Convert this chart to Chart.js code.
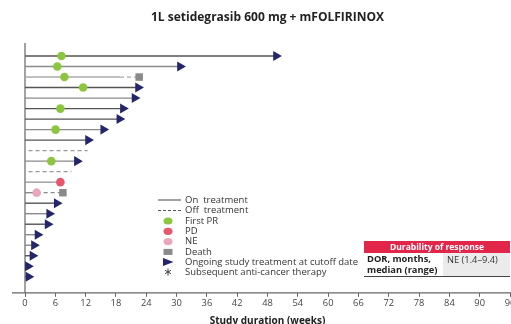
<!DOCTYPE html>
<html lang="en">
<head>
<meta charset="UTF-8">
<title>1L setidegrasib 600 mg + mFOLFIRINOX</title>
<script src="https://cdn.jsdelivr.net/npm/chart.js"></script>
<style>
  html, body { margin: 0; padding: 0; overflow: hidden; background: #fff; }
  #wrap { position: relative; width: 520px; height: 330px; }
  #dor { position: absolute; left: 364px; top: 241px; width: 146px; font-family: "Open Sans", sans-serif; color: #222; }
  #dor .head { background: #e2264a; color: #fff; font-weight: bold; font-size: 8.5px; height: 12px; line-height: 12px; text-align: center; }
  #dor .row { display: flex; border-bottom: 1px solid #444; height: 23px; }
  #dor .lab { width: 76px; font-weight: bold; font-size: 9.3px; line-height: 10.5px; padding: 1px 0 0 3px; white-space: nowrap; }
  #dor .val { flex: 1; background: #ebebeb; font-size: 9.3px; line-height: 10.5px; padding: 2px 0 0 4px; color: #333; }
</style>
</head>
<body>
<div id="wrap">
  <canvas id="swimmer" width="520" height="330"></canvas>
  <div id="dor">
    <div class="head">Durability of response</div>
    <div class="row">
      <div class="lab">DOR, months,<br>median (range)</div>
      <div class="val">NE (1.4–9.4)</div>
    </div>
  </div>
</div>
<script>
// one entry per patient, top to bottom (weeks)
const patients = [1, 2, 3, 4, 5, 6, 7, 8, 9, 10, 11, 12, 13, 14, 15, 16, 17, 18, 19, 20, 21, 22];
const onTreatEnd = [49.7, 30.7, 18.8, 22.4, 21.7, 19.4, 18.7, 15.5, 12.5, null, 10.3, null, 5.5, 2.3, 6.3, 4.8, 4.5, 2.5, 1.8, 1.5, 0.6, 0.7];
const offTreatStart = [null, null, 18.8, null, null, null, null, null, null, 0.7, null, 0.7, 5.5, 2.3, null, null, null, null, null, null, null, null];
const offTreatEnd = [null, null, 22.6, null, null, null, null, null, null, 12.4, null, 9.2, 7.8, 7.5, null, null, null, null, null, null, null, null];
const firstPR = [7.2, 6.4, 7.8, 11.5, null, 7.0, null, 6.05, null, null, 5.2, null, null, null, null, null, null, null, null, null, null, null];
const progression = [null, null, null, null, null, null, null, null, null, null, null, null, 7.0, null, null, null, null, null, null, null, null, null];
const notEvaluable = [null, null, null, null, null, null, null, null, null, null, null, null, null, 2.3, null, null, null, null, null, null, null, null];
const death = [null, null, 22.6, null, null, null, null, null, null, null, null, null, null, 7.5, null, null, null, null, null, null, null, null];
const ongoing = [49.7, 30.7, null, 22.4, 21.7, 19.4, 18.7, 15.5, 12.5, null, 10.3, null, null, null, 6.3, 4.8, 4.5, 2.5, 1.8, 1.5, 0.6, 0.7];
const weekTicks = [0, 6, 12, 18, 24, 30, 36, 42, 48, 54, 60, 66, 72, 78, 84, 90, 96];

// bar shade per row (styling only)
const shade = ['#555', '#8a8a8a', '#aaa', '#555', '#8a8a8a', '#555', '#555', '#8a8a8a', '#555', '#999', '#8a8a8a',
               '#999', '#9a9a9a', '#8a8a8a', '#555', '#8a8a8a', '#555', '#8a8a8a', '#8a8a8a', '#555', '#555', '#555'];

const GREEN = '#8cc63f', RED = '#e8566b', PINK = '#eaa7bb', GREY = '#8a8a8a', NAVY = '#25256b';

Chart.defaults.font.family = '"Open Sans", sans-serif';

function pts(arr) {
  const out = [];
  arr.forEach((v, i) => { if (v !== null) out.push({ x: v, y: patients[i] }); });
  return out;
}

const datasets = [];
patients.forEach((p, i) => {
  if (onTreatEnd[i] !== null) {
    datasets.push({ data: [{ x: 0, y: p }, { x: onTreatEnd[i], y: p }], showLine: true,
      borderColor: shade[i], borderWidth: 1.4, pointRadius: 0, order: 10 });
  }
  if (offTreatStart[i] !== null) {
    datasets.push({ data: [{ x: offTreatStart[i], y: p }, { x: offTreatEnd[i], y: p }], showLine: true,
      borderColor: shade[i], borderWidth: 1.3, borderDash: [4, 3], pointRadius: 0, order: 10 });
  }
});

datasets.push(
  { data: pts(ongoing), pointStyle: 'triangle', rotation: 90, pointRadius: 5.8, backgroundColor: NAVY, borderColor: NAVY, borderWidth: 0, order: 1 },
  { data: pts(firstPR), pointRadius: 4.3, backgroundColor: GREEN, borderWidth: 0, order: 1 },
  { data: pts(progression), pointRadius: 4.3, backgroundColor: RED, borderWidth: 0, order: 1 },
  { data: pts(notEvaluable), pointRadius: 4.3, backgroundColor: PINK, borderWidth: 0, order: 1 },
  { data: pts(death), pointStyle: 'rect', pointRadius: 5.3, backgroundColor: GREY, borderWidth: 0, order: 1 }
);

// axis lines and the in-plot legend
const decor = {
  id: 'decor',
  beforeDatasetsDraw(chart) {
    const { ctx, chartArea: a } = chart;
    ctx.save();
    ctx.strokeStyle = '#666';
    ctx.lineWidth = 1.2;
    ctx.beginPath();
    ctx.moveTo(a.left, a.top);
    ctx.lineTo(a.left, a.bottom);
    ctx.moveTo(12, a.bottom);
    ctx.lineTo(chart.width, a.bottom);
    ctx.stroke();
    ctx.restore();
  },
  afterDatasetsDraw(chart) {
    const ctx = chart.ctx;
    const x0 = 158, mx = 168, tx = 185;
    const labels = ['On  treatment', 'Off  treatment', 'First PR', 'PD', 'NE', 'Death',
                    'Ongoing study treatment at cutoff date', 'Subsequent anti-cancer therapy'];
    const ys = [200, 210.5, 221, 231.3, 241.6, 251.9, 262, 272];
    ctx.save();
    ctx.font = '9.5px "Open Sans", sans-serif';
    ctx.fillStyle = '#333';
    ctx.textBaseline = 'middle';
    labels.forEach((t, i) => ctx.fillText(t, tx, ys[i]));

    ctx.strokeStyle = '#555';
    ctx.lineWidth = 1.1;
    ctx.beginPath(); ctx.moveTo(x0, ys[0]); ctx.lineTo(181, ys[0]); ctx.stroke();
    ctx.setLineDash([3, 2]);
    ctx.beginPath(); ctx.moveTo(x0, ys[1]); ctx.lineTo(181, ys[1]); ctx.stroke();
    ctx.setLineDash([]);

    [[GREEN, 2], [RED, 3], [PINK, 4]].forEach(([c, i]) => {
      ctx.fillStyle = c;
      ctx.beginPath(); ctx.ellipse(mx, ys[i], 4.5, 3.6, 0, 0, Math.PI * 2); ctx.fill();
    });
    ctx.fillStyle = GREY;
    ctx.fillRect(mx - 4.5, ys[5] - 3, 9, 6);
    ctx.fillStyle = NAVY;
    ctx.beginPath();
    ctx.moveTo(mx - 5, ys[6] - 4); ctx.lineTo(mx + 5.5, ys[6]); ctx.lineTo(mx - 5, ys[6] + 4);
    ctx.closePath(); ctx.fill();

    // asterisk
    ctx.strokeStyle = '#333';
    ctx.lineWidth = 0.9;
    ctx.beginPath();
    for (let k = 0; k < 3; k++) {
      const ang = Math.PI / 2 + k * Math.PI / 3;
      ctx.moveTo(mx - Math.cos(ang) * 3.6, ys[7] - Math.sin(ang) * 3.6);
      ctx.lineTo(mx + Math.cos(ang) * 3.6, ys[7] + Math.sin(ang) * 3.6);
    }
    ctx.stroke();
    ctx.restore();
  }
};

new Chart(document.getElementById('swimmer').getContext('2d'), {
  type: 'scatter',
  data: { datasets: datasets },
  options: {
    responsive: false,
    animation: false,
    clip: false,
    layout: { padding: { left: 25, right: 10, top: 0, bottom: 3 } },
    plugins: {
      legend: { display: false },
      tooltip: { enabled: false },
      title: {
        display: true,
        fullSize: false,
        text: '1L setidegrasib 600 mg + mFOLFIRINOX',
        color: '#222',
        font: { size: 12, weight: 'bold' },
        padding: { top: 10, bottom: 18.6 }
      }
    },
    scales: {
      x: {
        type: 'linear',
        min: 0,
        max: 96,
        border: { display: false },
        grid: { drawOnChartArea: false, tickLength: 4, color: '#666' },
        afterBuildTicks: axis => { axis.ticks = weekTicks.map(v => ({ value: v })); },
        ticks: { autoSkip: false, maxRotation: 0, padding: 1, color: '#444', font: { size: 9.3 } },
        title: {
          display: true,
          text: 'Study duration (weeks)',
          color: '#222',
          font: { size: 10, weight: 'bold' },
          padding: { top: 5, bottom: 0 }
        }
      },
      y: { type: 'linear', display: false, reverse: true, min: -0.24, max: 23.53 }
    }
  },
  plugins: [decor]
});
</script>
</body>
</html>
